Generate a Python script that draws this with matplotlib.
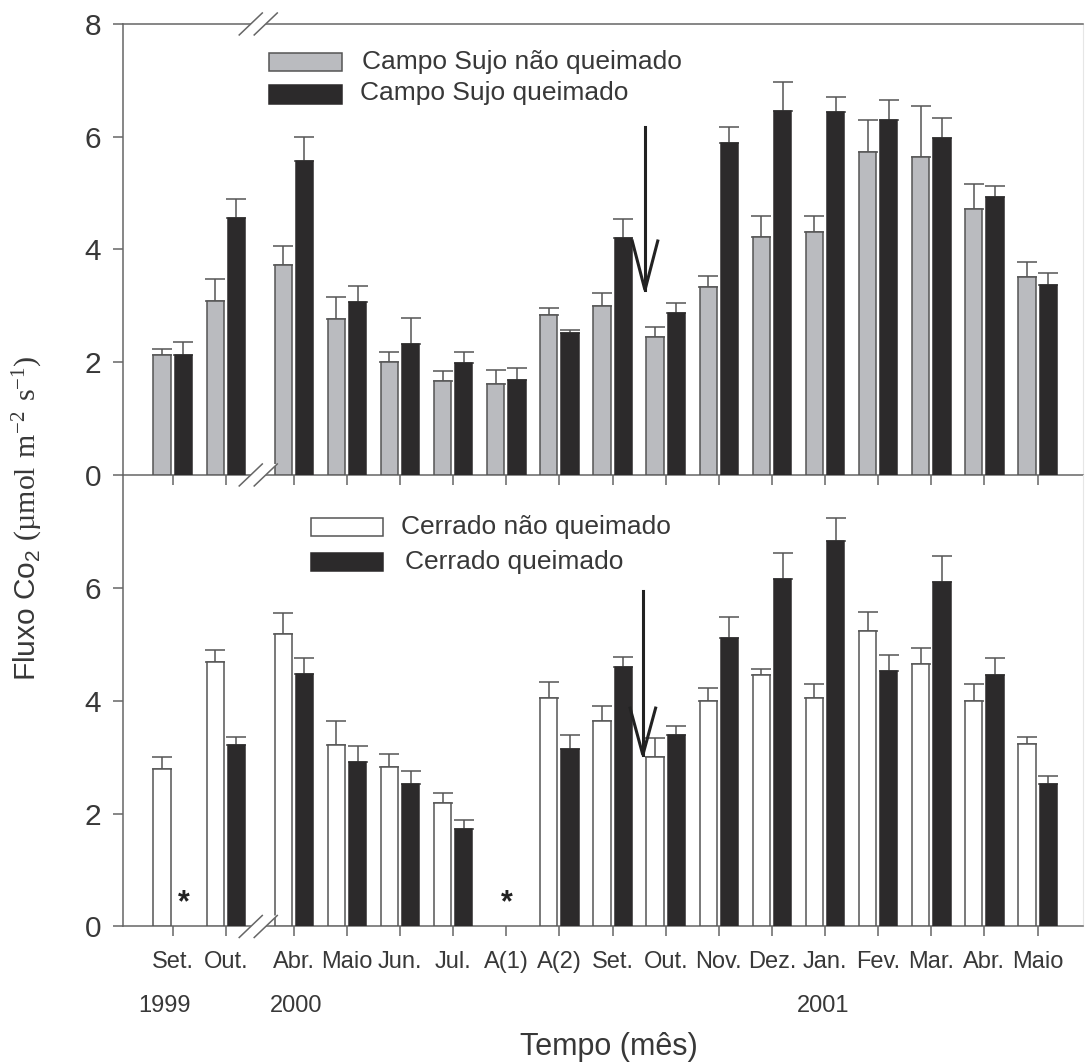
import numpy as np
import matplotlib
matplotlib.use('Agg')
import matplotlib.pyplot as plt
from matplotlib.patches import Rectangle, Polygon

plt.rcParams['font.family'] = ['Liberation Sans', 'DejaVu Sans']
plt.rcParams['mathtext.fontset'] = 'custom'
plt.rcParams['mathtext.rm'] = 'Liberation Serif'
plt.rcParams['mathtext.sf'] = 'Liberation Sans'

meses = ['Set.', 'Out.', 'Abr.', 'Maio', 'Jun.', 'Jul.', 'A(1)', 'A(2)', 'Set.',
         'Out.', 'Nov.', 'Dez.', 'Jan.', 'Fev.', 'Mar.', 'Abr.', 'Maio']
anos = ['1999', '2000', '2001']
anos_pos = [-0.15, 2.33, 12.25]

# Campo sujo (painel de cima)
cs_nq = [2.13, 3.09, 3.73, 2.77, 2.00, 1.67, 1.61, 2.83, 2.99, 2.45, 3.34, 4.23, 4.31, 5.73, 5.64, 4.72, 3.51]
cs_nq_err = [0.11, 0.38, 0.33, 0.39, 0.19, 0.18, 0.26, 0.14, 0.23, 0.18, 0.19, 0.36, 0.28, 0.57, 0.91, 0.45, 0.26]
cs_q = [2.13, 4.55, 5.57, 3.07, 2.32, 1.99, 1.69, 2.51, 4.20, 2.88, 5.88, 6.45, 6.43, 6.30, 5.97, 4.93, 3.37]
cs_q_err = [0.22, 0.35, 0.42, 0.29, 0.47, 0.20, 0.20, 0.07, 0.34, 0.17, 0.30, 0.52, 0.27, 0.36, 0.36, 0.20, 0.22]

# Cerrado (painel de baixo), nan = sem dado (*)
ce_nq = [2.79, 4.69, 5.18, 3.22, 2.82, 2.19, np.nan, 4.05, 3.65, 3.01, 4.00, 4.45, 4.04, 5.23, 4.65, 3.99, 3.23]
ce_nq_err = [0.22, 0.21, 0.37, 0.42, 0.24, 0.17, np.nan, 0.28, 0.25, 0.33, 0.22, 0.12, 0.26, 0.34, 0.28, 0.31, 0.12]
ce_q = [np.nan, 3.22, 4.47, 2.92, 2.52, 1.72, np.nan, 3.14, 4.60, 3.39, 5.12, 6.16, 6.83, 4.53, 6.10, 4.45, 2.52]
ce_q_err = [np.nan, 0.14, 0.29, 0.28, 0.24, 0.16, np.nan, 0.26, 0.17, 0.17, 0.36, 0.45, 0.40, 0.28, 0.46, 0.31, 0.14]

# posicao das setas (queimada): x relativo ao Set. 2001, topo, ponta, base das pontas
seta_cima = [0.61, 6.18, 3.28, 4.15]
seta_baixo = [0.57, 5.94, 3.04, 3.87]

cinza = '#babbbf'
preto = '#2c2a2b'
linha = '#666666'
txt = '#383838'

x = np.arange(len(meses)) + np.where(np.arange(len(meses)) >= 2, 0.28, 0.0)
w = 0.326
off = 0.2

fig = plt.figure(figsize=(10.85, 10.64), dpi=100)
ax1 = fig.add_axes([0.1136, 0.5536, 0.8845, 0.42387])
ax2 = fig.add_axes([0.1136, 0.12923, 0.8845, 0.42434])


def barras(ax, xs, vals, errs, cor, borda):
    vals = np.array(vals, dtype=float)
    errs = np.array(errs, dtype=float)
    ok = ~np.isnan(vals)
    ax.bar(xs[ok], vals[ok], w, color=cor, edgecolor=borda, linewidth=1.1, zorder=3)
    ax.errorbar(xs[ok], vals[ok], yerr=[np.zeros(ok.sum()), errs[ok]], fmt='none',
                ecolor='#555555', elinewidth=1.1, capsize=7, capthick=1.1, zorder=2)


barras(ax1, x - off, cs_nq, cs_nq_err, cinza, '#555555')
barras(ax1, x + off, cs_q, cs_q_err, preto, preto)
barras(ax2, x - off, ce_nq, ce_nq_err, 'white', '#555555')
barras(ax2, x + off, ce_q, ce_q_err, preto, preto)

# asteriscos para meses sem dado
for i in range(len(meses)):
    a, b = np.isnan(ce_nq[i]), np.isnan(ce_q[i])
    if a and b:
        ax2.text(x[i], 0.42, '*', ha='center', va='center', fontsize=22,
                 fontweight='bold', color='#222222')
    elif b:
        ax2.text(x[i] + off, 0.42, '*', ha='center', va='center', fontsize=22,
                 fontweight='bold', color='#222222')

for ax in (ax1, ax2):
    ax.set_xlim(-0.931, 17.134)
    ax.set_ylim(0, 8)
    ax.set_xticks(x)
    ax.patch.set_visible(False)
    for s in ('left', 'bottom', 'top'):
        ax.spines[s].set_color(linha)
        ax.spines[s].set_linewidth(1.1)
    ax.spines['right'].set_color('#e6e6e6')
    ax.spines['right'].set_linewidth(0.8)
    ax.tick_params(direction='out', length=7, width=1.1, color=linha,
                   labelsize=21.5, labelcolor=txt, pad=9)

ax1.set_yticks([0, 2, 4, 6, 8])
ax1.tick_params(axis='x', labelbottom=False)
ax2.set_yticks([0, 2, 4, 6])
ax2.spines['top'].set_visible(False)
ax2.set_xticklabels(meses)
ax2.tick_params(axis='x', labelsize=17, pad=11)

# anos
for a, p in zip(anos, anos_pos):
    ax2.text(p, -0.176, a, transform=ax2.get_xaxis_transform(), ha='center', va='center',
             fontsize=17, color=txt)


# quebra do eixo x (//)
def quebra(ax, y):
    cx = (x[1] + x[2]) / 2 - 0.03
    dx, dy, s = 0.217, 0.195, 0.141
    ax.add_patch(Polygon([(cx - s - dx, y - dy), (cx - s + dx, y + dy), (cx + s + dx, y + dy),
                          (cx + s - dx, y - dy)], closed=True, facecolor='white',
                         edgecolor='none', zorder=5, clip_on=False))
    for c in (cx - s, cx + s):
        ax.plot([c - dx, c + dx], [y - dy, y + dy], color=linha, lw=1.1, zorder=6,
                clip_on=False)


quebra(ax1, 8)
quebra(ax1, 0)
quebra(ax2, 0)


# setas
def seta(ax, dados):
    dxs, topo, ponta, base = dados
    xs = x[8] + dxs
    ax.plot([xs, xs], [topo, ponta], color='#222222', lw=2.2, zorder=7)
    ax.plot([xs - 0.24, xs, xs + 0.24], [base, ponta, base], color='#222222', lw=2.2,
            zorder=7, solid_joinstyle='miter')


seta(ax1, seta_cima)
seta(ax2, seta_baixo)

# legendas
ax1.add_patch(Rectangle((0.1518, 0.9157 - 0.021), 0.0761, 0.042, transform=ax1.transAxes,
                        facecolor=cinza, edgecolor='#555555', lw=1.1, clip_on=False))
ax1.add_patch(Rectangle((0.1518, 0.8426 - 0.021), 0.0761, 0.042, transform=ax1.transAxes,
                        facecolor=preto, edgecolor=preto, lw=1.1, clip_on=False))
ax1.text(0.2484, 0.9157, 'Campo Sujo não queimado', transform=ax1.transAxes,
         va='center', ha='left', fontsize=19, color=txt)
ax1.text(0.2466, 0.847, 'Campo Sujo queimado', transform=ax1.transAxes,
         va='center', ha='left', fontsize=19, color=txt)

ax2.add_patch(Rectangle((0.1956, 0.8848 - 0.02), 0.075, 0.04, transform=ax2.transAxes,
                        facecolor='white', edgecolor='#555555', lw=1.1, clip_on=False))
ax2.add_patch(Rectangle((0.1956, 0.8073 - 0.02), 0.075, 0.04, transform=ax2.transAxes,
                        facecolor=preto, edgecolor=preto, lw=1.1, clip_on=False))
ax2.text(0.289, 0.8848, 'Cerrado não queimado', transform=ax2.transAxes,
         va='center', ha='left', fontsize=19, color=txt)
ax2.text(0.2935, 0.8073, 'Cerrado queimado', transform=ax2.transAxes,
         va='center', ha='left', fontsize=19, color=txt)

fig.text(28 / 1085, 1 - 518 / 1064,
         'Fluxo Co$_\\mathsf{2}$ $\\mathrm{(\u00b5mol\\ m^{-2}\\ s^{-1})}$',
         rotation=90, ha='center', va='center', fontsize=21.5, color=txt)
fig.text(609 / 1085, 1 - 1046.5 / 1064, 'Tempo (mês)', ha='center', va='center',
         fontsize=22, color=txt)

fig.savefig('out.png', dpi=100)
